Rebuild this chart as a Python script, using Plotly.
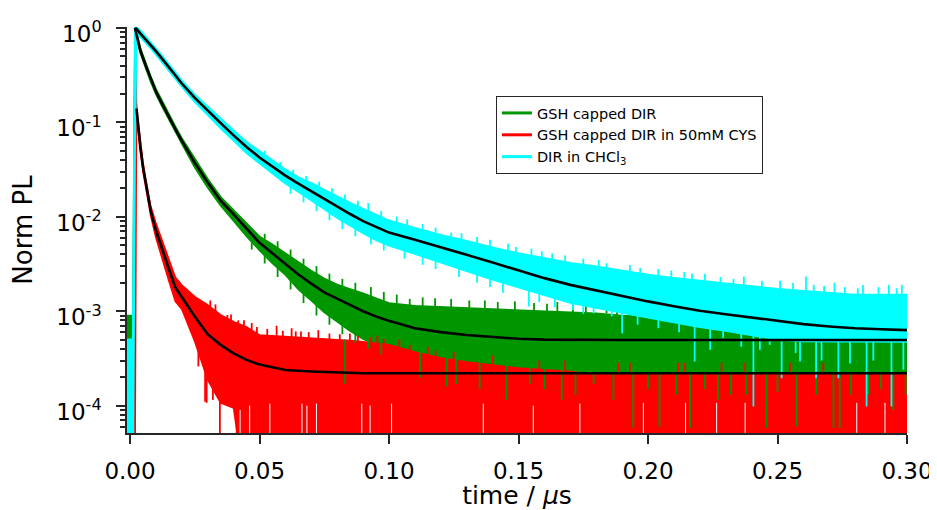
import plotly.graph_objects as go

# ---------------- data ----------------
# common time grid (microseconds) for the noise envelopes of the measured traces
T = [-0.0013, 0.0011, 0.0019, 0.0025, 0.003, 0.004, 0.005, 0.006, 0.008, 0.010,
     0.0125, 0.015, 0.0175, 0.020, 0.025, 0.030, 0.035, 0.040, 0.045, 0.050,
     0.055, 0.060, 0.065, 0.070, 0.075, 0.080, 0.085, 0.090, 0.095, 0.100,
     0.110, 0.120, 0.130, 0.140, 0.150, 0.160, 0.170, 0.180, 0.190, 0.200,
     0.210, 0.220, 0.230, 0.240, 0.250, 0.260, 0.270, 0.280, 0.290, 0.300]

# DIR in CHCl3 (cyan) - upper / lower edge of the noisy trace
cyan_hi = [5.0e-4, 5.0e-4, 1.0, 1.0, 0.99, 0.94, 0.875, 0.82, 0.71, 0.61,
           0.504, 0.411, 0.338, 0.277, 0.196, 0.146, 0.108, 0.0822, 0.0619, 0.0493,
           0.0395, 0.0317, 0.0261, 0.0227, 0.0193, 0.0163, 0.0140, 0.0121, 0.0104, 0.00912,
           0.00762, 0.0064, 0.00556, 0.00472, 0.0041, 0.00365, 0.00325, 0.00298, 0.00268, 0.00243,
           0.00225, 0.00210, 0.00195, 0.00181, 0.00172, 0.00164, 0.00156, 0.00149, 0.00149, 0.00149]
cyan_lo = [1e-5, 1e-5, 0.05, 0.93, 0.86, 0.81, 0.755, 0.70, 0.61, 0.527,
           0.435, 0.355, 0.292, 0.239, 0.165, 0.120, 0.0865, 0.0644, 0.0473, 0.0367,
           0.0288, 0.0225, 0.0185, 0.0150, 0.0121, 0.0097, 0.0080, 0.00673, 0.00565, 0.00495,
           0.00405, 0.00331, 0.00267, 0.00216, 0.00179, 0.00148, 0.00123, 0.00109, 0.00096, 0.00085,
           0.00076, 0.00068, 0.00062, 0.00056, 0.00050, 0.00048, 0.000475, 0.000475, 0.000475, 0.000475]

# GSH capped DIR (green)
green_hi = [9.0e-4, 9.0e-4, 1.0, 0.92, 0.80, 0.62, 0.52, 0.436, 0.308, 0.228,
            0.166, 0.121, 0.0912, 0.0686, 0.0412, 0.0253, 0.0163, 0.0118, 0.0086, 0.0062,
            0.0051, 0.00414, 0.00329, 0.00269, 0.00223, 0.00192, 0.00172, 0.00155, 0.00137, 0.00122,
            0.00114, 0.00111, 0.00108, 0.00105, 0.00103, 0.00100, 0.00098, 0.00095, 0.00090, 0.00088,
            0.00085, 0.00082, 0.00082, 0.00082, 0.00082, 0.00082, 0.00082, 0.00082, 0.00082, 0.00082]
green_lo = [5.0e-4, 5.0e-4, 0.9, 0.79, 0.69, 0.535, 0.449, 0.377, 0.266, 0.197,
            0.144, 0.105, 0.0787, 0.0592, 0.0331, 0.0203, 0.0131, 0.00904, 0.0062, 0.0044,
            0.0032, 0.00242, 0.0017, 0.00129, 0.00097, 0.00078, 0.000615, 0.000505, 0.000437, 0.000398,
            0.000347, 0.000316, 0.00025, 0.00018, 0.00018, 0.00018, 0.00018, 0.00018, 0.00018, 0.00018,
            0.00018, 0.00018, 0.00018, 0.00018, 0.00018, 0.00018, 0.00018, 0.00018, 0.00018, 0.00018]

# GSH capped DIR in 50mM CYS (red); 1e-5 = zero counts (below the axis)
red_hi = [1.1e-4, 1.1e-4, 1.0, 0.16, 0.112, 0.062, 0.038, 0.026, 0.013, 0.0086,
          0.00547, 0.00357, 0.00229, 0.00189, 0.00143, 0.00117, 0.000914, 0.000773, 0.00068, 0.00056,
          0.00055, 0.00054, 0.00053, 0.00052, 0.00051, 0.00050, 0.00049, 0.000475, 0.00046, 0.00044,
          0.00037, 0.00032, 0.00029, 0.00027, 0.00025, 0.00024, 0.00023, 0.000213, 0.000213, 0.000213,
          0.000213, 0.000213, 0.000213, 0.000213, 0.000213, 0.000213, 0.000213, 0.000213, 0.000213, 0.000213]
red_lo = [1e-5, 1e-5, 1e-5, 0.12, 0.089, 0.049, 0.030, 0.020, 0.0102, 0.0060,
          0.00344, 0.00209, 0.00127, 0.00105, 0.000477, 0.000187, 0.000107, 0.000094, 1e-5, 1e-5,
          1e-5, 1e-5, 1e-5, 1e-5, 1e-5, 1e-5, 1e-5, 1e-5, 1e-5, 1e-5,
          1e-5, 1e-5, 1e-5, 1e-5, 1e-5, 1e-5, 1e-5, 1e-5, 1e-5, 1e-5,
          1e-5, 1e-5, 1e-5, 1e-5, 1e-5, 1e-5, 1e-5, 1e-5, 1e-5, 1e-5]

# isolated noise strokes of the cyan trace (time, bottom, top)
cyan_spk_t = [0.092, 0.124, 0.149, 0.163, 0.184, 0.197, 0.214, 0.222, 0.237, 0.251, 0.261, 0.272, 0.283, 0.293, 0.298,
              0.144, 0.154, 0.171, 0.179, 0.186, 0.190, 0.218, 0.224, 0.236, 0.2407, 0.2432, 0.2516, 0.257, 0.2587,
              0.2649, 0.267, 0.2735, 0.278, 0.2844, 0.287, 0.294, 0.2986,
              0.052, 0.058, 0.063, 0.068, 0.073, 0.078, 0.083, 0.088, 0.097, 0.103, 0.107, 0.113, 0.118, 0.128,
              0.134, 0.139, 0.146, 0.155, 0.159, 0.168, 0.175, 0.181, 0.193, 0.204, 0.209, 0.217, 0.228, 0.233,
              0.244, 0.256, 0.264, 0.268, 0.276, 0.281, 0.289, 0.296,
              0.062, 0.067, 0.072, 0.077, 0.082, 0.087, 0.093, 0.098, 0.106, 0.113, 0.118, 0.127, 0.134, 0.139,
              0.158, 0.164, 0.175, 0.196, 0.204, 0.212, 0.229, 0.247]
cyan_spk_lo = [0.0105, 0.0058, 0.0040, 0.0034, 0.0028, 0.0025, 0.0022, 0.0021, 0.0019, 0.0017, 0.0016, 0.0015, 0.0015, 0.0015, 0.0015,
               0.00157, 0.00112, 0.00103, 0.00095, 0.00088, 0.000585, 0.000293, 0.00039, 0.00042, 0.000098, 0.00039, 0.000195,
               0.00036, 0.000293, 0.000195, 0.00030, 0.000195, 0.00028, 0.000098, 0.00030, 0.000098, 0.00024,
               0.040, 0.030, 0.025, 0.021, 0.018, 0.0155, 0.013, 0.011, 0.0088, 0.0076, 0.0071, 0.0064, 0.0058, 0.0051,
               0.0046, 0.0042, 0.0039, 0.0034, 0.0033, 0.0029, 0.0027, 0.0026, 0.0023, 0.0021, 0.0020, 0.0019, 0.0017, 0.0017,
               0.0016, 0.0015, 0.0014, 0.0014, 0.0013, 0.0013, 0.0013, 0.0013,
               0.0175, 0.0142, 0.0115, 0.0092, 0.0074, 0.0062, 0.0051, 0.0044, 0.0036, 0.0031, 0.0028, 0.0023, 0.0020, 0.0018,
               0.00125, 0.0011, 0.00094, 0.00072, 0.00066, 0.0006, 0.00052, 0.00044]
cyan_spk_hi = [0.0140, 0.0068, 0.0048, 0.0041, 0.00323, 0.00286, 0.0026, 0.0025, 0.00233, 0.0021, 0.00233, 0.0020, 0.0019, 0.0019, 0.0019,
               0.0021, 0.0017, 0.0013, 0.0011, 0.0010, 0.00096, 0.0007, 0.00066, 0.0006, 0.00056, 0.00056, 0.0005,
               0.00048, 0.00048, 0.00048, 0.00048, 0.00048, 0.00048, 0.00048, 0.00048, 0.00048, 0.00048,
               0.050, 0.038, 0.0315, 0.027, 0.0235, 0.020, 0.0172, 0.0148, 0.0115, 0.0101, 0.0094, 0.0084, 0.0077, 0.0067,
               0.0061, 0.0057, 0.0052, 0.0046, 0.0043, 0.0039, 0.0036, 0.0035, 0.0031, 0.0028, 0.0027, 0.0025, 0.0023, 0.0022,
               0.0021, 0.0020, 0.0019, 0.00185, 0.0018, 0.00175, 0.0018, 0.00175,
               0.023, 0.019, 0.0155, 0.0125, 0.010, 0.0085, 0.007, 0.006, 0.005, 0.0043, 0.0039, 0.0032, 0.0028, 0.0025,
               0.0017, 0.0015, 0.0013, 0.001, 0.0009, 0.00082, 0.0007, 0.00058]

# green strokes above its band (hidden partly by cyan)
green_up_t = [0.108, 0.1178, 0.131, 0.1486, 0.165, 0.176, 0.184, 0.202,
              0.052, 0.057, 0.062, 0.067, 0.072, 0.077, 0.082, 0.087, 0.093, 0.098, 0.103, 0.113, 0.124, 0.137,
              0.142, 0.156, 0.161, 0.171, 0.188, 0.195, 0.207, 0.215]
green_up_lo = [0.00115, 0.0011, 0.00108, 0.00103, 0.0010, 0.00097, 0.00095, 0.00088,
               0.0051, 0.0042, 0.0034, 0.0027, 0.0022, 0.0019, 0.0016, 0.0015, 0.0013, 0.00115, 0.00107, 0.001, 0.00098, 0.00095,
               0.00095, 0.0009, 0.0009, 0.00088, 0.00082, 0.0008, 0.00077, 0.00075]
green_up_hi = [0.00135, 0.00137, 0.0013, 0.00127, 0.00125, 0.0012, 0.0012, 0.0011,
               0.0066, 0.0055, 0.0045, 0.0036, 0.0030, 0.0025, 0.0022, 0.002, 0.0018, 0.0016, 0.0015, 0.0014, 0.00135, 0.0013,
               0.00125, 0.00122, 0.0012, 0.00118, 0.0011, 0.00108, 0.00104, 0.001]

# green strokes below its band (drawn over the red trace)
green_dn_t = [0.083, 0.112, 0.1223, 0.126, 0.135, 0.1454, 0.1544, 0.160, 0.1667, 0.172, 0.179, 0.1866, 0.1943, 0.200,
              0.2044, 0.211, 0.2162, 0.222, 0.227, 0.232, 0.238, 0.2458, 0.250, 0.2574, 0.265, 0.2716, 0.274,
              0.2784, 0.285, 0.290, 0.2947, 0.2995,
              0.047, 0.052, 0.057, 0.062, 0.067, 0.072, 0.077, 0.082, 0.087, 0.092, 0.097]
green_dn_lo = [0.00017, 0.00020, 0.00016, 0.00017, 0.00015, 0.000115, 0.00017, 0.00015, 0.000115, 0.00013, 0.00017,
               0.000115, 0.000058, 0.00015, 0.00006, 0.00013, 0.000058, 0.00015, 0.000115, 0.00013, 0.00013, 0.000058,
               0.00014, 0.00006, 0.00013, 0.000058, 0.000058, 0.00013, 0.00013, 0.00015, 0.00009, 0.00013,
               0.0045, 0.0032, 0.0023, 0.0017, 0.00122, 0.0009, 0.00072, 0.00057, 0.00046, 0.0004, 0.00035]
green_dn_hi = [0.0005, 0.00037, 0.00032, 0.00032, 0.0003, 0.00027, 0.00025, 0.00025, 0.00024, 0.00023, 0.00022,
               0.00022, 0.00022, 0.00022, 0.00022, 0.00022, 0.00022, 0.00022, 0.00022, 0.00022, 0.00022, 0.00022,
               0.00022, 0.00022, 0.00022, 0.00022, 0.00022, 0.00022, 0.00022, 0.00022, 0.00022, 0.00022,
               0.006, 0.0043, 0.0031, 0.0023, 0.0017, 0.00128, 0.001, 0.0008, 0.00064, 0.00054, 0.00047]

# red strokes
red_spk_t = [0.0264, 0.029, 0.0296, 0.032, 0.0347, 0.0412, 0.0438,
             0.0376, 0.0418, 0.047, 0.0566, 0.0624, 0.066, 0.0727, 0.0849, 0.0955, 0.104, 0.115, 0.125, 0.140,
             0.158, 0.168, 0.1886, 0.193, 0.2117, 0.2143, 0.2284, 0.2375, 0.2548, 0.2677, 0.2735,
             0.031, 0.033, 0.039, 0.044, 0.049, 0.053, 0.059, 0.064, 0.069, 0.077, 0.081, 0.088, 0.093, 0.098,
             0.108, 0.118]
red_spk_lo = [0.00026, 0.00011, 0.000107, 0.000115, 1e-5, 1e-5, 1e-5,
              0.0007, 0.00065, 0.0006, 0.0005, 0.0005, 0.0005, 0.0005, 0.00048, 0.00045, 0.0004, 0.00034, 0.0003, 0.00026,
              0.00023, 0.00023, 0.00021, 0.00021, 0.00021, 0.00021, 0.00021, 0.00021, 0.00021, 0.00021, 0.00021,
              0.001, 0.0009, 0.0007, 0.00062, 0.00052, 0.0005, 0.00048, 0.00047, 0.00046, 0.00045, 0.00045, 0.00043, 0.00042, 0.0004,
              0.00034, 0.0003]
red_spk_hi = [0.0005, 0.0003, 0.0002, 0.0002, 0.00011, 0.0001, 0.0001,
              0.00091, 0.0008, 0.00075, 0.0007, 0.00066, 0.00061, 0.00063, 0.00058, 0.00055, 0.0005, 0.00042, 0.00037, 0.00034,
              0.0003, 0.0003, 0.000284, 0.000284, 0.000284, 0.000284, 0.000284, 0.000284, 0.000284, 0.000284, 0.000284,
              0.0013, 0.00118, 0.00092, 0.0008, 0.00068, 0.00065, 0.00062, 0.00061, 0.0006, 0.00058, 0.00057, 0.00055, 0.00053, 0.00051,
              0.00044, 0.00038]

# channels where all traces are at zero counts (white gaps)
gap_t = [0.0425, 0.0462, 0.0540, 0.0664, 0.0683, 0.0720, 0.0895, 0.0927, 0.1010, 0.1364, 0.1557, 0.1737,
         0.1982, 0.2145, 0.2265, 0.2375, 0.2806, 0.2915]
gap_lo = [1e-5] * 18
gap_hi = [9e-5, 1.0e-4, 1.05e-4, 1.05e-4, 1.0e-4, 1.05e-4, 1.05e-4, 1.0e-4, 1.05e-4, 1.05e-4, 1.0e-4, 1.05e-4,
          1.07e-4, 1.07e-4, 1.07e-4, 1.07e-4, 1.07e-4, 1.07e-4]

# fitted decays (black)
cyan_fit_t = [0.0019, 0.0025, 0.004, 0.006, 0.008, 0.010, 0.0125, 0.015, 0.0175, 0.020, 0.025, 0.030, 0.035, 0.040,
              0.045, 0.050, 0.055, 0.060, 0.065, 0.070, 0.075, 0.080, 0.085, 0.090, 0.095, 0.100, 0.110, 0.120,
              0.130, 0.140, 0.150, 0.160, 0.170, 0.180, 0.190, 0.200, 0.210, 0.220, 0.230, 0.240, 0.250, 0.260,
              0.270, 0.280, 0.290, 0.300]
cyan_fit_v = [1.0, 0.98, 0.87, 0.76, 0.66, 0.567, 0.468, 0.382, 0.314, 0.258, 0.182, 0.132, 0.098, 0.0728,
              0.0548, 0.0425, 0.0341, 0.0273, 0.0225, 0.0187, 0.0155, 0.0127, 0.0107, 0.0090, 0.0078, 0.0068, 0.0057, 0.00478,
              0.00395, 0.00327, 0.00271, 0.00224, 0.0019, 0.00166, 0.00143, 0.00127, 0.00113, 0.00101, 0.00093, 0.00086, 0.00080, 0.00073,
              0.00069, 0.00066, 0.000645, 0.00063]
green_fit_t = [0.0019, 0.0025, 0.004, 0.006, 0.008, 0.010, 0.0125, 0.015, 0.0175, 0.020, 0.025, 0.030, 0.035, 0.040,
               0.045, 0.050, 0.055, 0.060, 0.065, 0.070, 0.075, 0.080, 0.085, 0.090, 0.095, 0.100, 0.110, 0.120,
               0.130, 0.140, 0.150, 0.160, 0.190, 0.300]
green_fit_v = [1.0, 0.85, 0.575, 0.405, 0.286, 0.212, 0.155, 0.113, 0.0848, 0.0637, 0.0374, 0.0230, 0.0148, 0.0106,
               0.0074, 0.0053, 0.0041, 0.0032, 0.00245, 0.00196, 0.00158, 0.00136, 0.00116, 0.0010, 0.00088, 0.00079, 0.00066, 0.00060,
               0.00056, 0.00053, 0.00051, 0.00050, 0.000495, 0.000495]
red_fit_t = [0.0025, 0.003, 0.004, 0.005, 0.0065, 0.008, 0.010, 0.0125, 0.015, 0.0175, 0.020, 0.025, 0.030, 0.035,
             0.040, 0.045, 0.050, 0.060, 0.070, 0.080, 0.090, 0.300]
red_fit_v = [0.14, 0.10, 0.055, 0.034, 0.019, 0.0115, 0.0072, 0.0044, 0.0028, 0.00179, 0.0014, 0.00088, 0.00057, 0.00044,
             0.000357, 0.000305, 0.000272, 0.000238, 0.00023, 0.000225, 0.00022, 0.00022]

names = ["GSH capped DIR", "GSH capped DIR in 50mM CYS", "DIR in CHCl<sub>3</sub>"]
x_ticks = [0.0, 0.05, 0.10, 0.15, 0.20, 0.25, 0.30]
x_ticktext = ["0.00", "0.05", "0.10", "0.15", "0.20", "0.25", "0.30"]
y_ticks = [1e-4, 1e-3, 1e-2, 1e-1, 1.0]
y_ticktext = ["10<sup>-4</sup>", "10<sup>-3</sup>", "10<sup>-2</sup>", "10<sup>-1</sup>", "10<sup>0</sup>"]

# ---------------- styling ----------------
FONT = "DejaVu Sans"
GREEN = "#009600"
RED = "#ff0000"
CYAN = "#00ffff"
AX = "#262626"


def band(t, hi, lo, color, width):
    return go.Scatter(x=list(t) + list(t[::-1]), y=list(hi) + list(lo[::-1]),
                      fill="toself", fillcolor=color, mode="lines",
                      line=dict(color=color, width=width),
                      showlegend=False, hoverinfo="skip")


def strokes(t, lo, hi, color, width):
    xs, ys = [], []
    for a, b, c in zip(t, lo, hi):
        xs += [a, a, None]
        ys += [b, c, None]
    return go.Scatter(x=xs, y=ys, mode="lines", line=dict(color=color, width=width),
                      connectgaps=False, showlegend=False, hoverinfo="skip")


def fit(t, v):
    return go.Scatter(x=t, y=v, mode="lines", line=dict(color="black", width=2.6),
                      showlegend=False, hoverinfo="skip")


fig = go.Figure()
fig.add_trace(band(T, green_hi, green_lo, GREEN, 1.5))
fig.add_trace(strokes(green_up_t, green_up_lo, green_up_hi, GREEN, 1.8))
fig.add_trace(band(T, red_hi, red_lo, RED, 1.5))
fig.add_trace(strokes(red_spk_t, red_spk_lo, red_spk_hi, RED, 1.8))
fig.add_trace(strokes(green_dn_t, green_dn_lo, green_dn_hi, GREEN, 1.8))
fig.add_trace(strokes(gap_t, gap_lo, gap_hi, "white", 1))
fig.add_trace(band(T, cyan_hi, cyan_lo, CYAN, 2))
fig.add_trace(strokes(cyan_spk_t, cyan_spk_lo, cyan_spk_hi, CYAN, 1.8))
fig.add_trace(fit(green_fit_t, green_fit_v))
fig.add_trace(fit(red_fit_t, red_fit_v))
fig.add_trace(fit(cyan_fit_t, cyan_fit_v))

for nm, col in zip(names, [GREEN, RED, CYAN]):
    fig.add_trace(go.Scatter(x=[None], y=[None], mode="lines", name=nm,
                             line=dict(color=col, width=3)))

minor_vals = [k * 10.0 ** e for e in range(-5, 0) for k in range(2, 10)]

# the page body adds an 8 px offset, so the figure is 8 px smaller with 8 px smaller left/top margins
fig.update_layout(
    width=929, height=502,
    margin=dict(l=119, r=30, t=19, b=77, autoexpand=False),
    paper_bgcolor="white", plot_bgcolor="white",
    font=dict(family=FONT, color="black"),
    showlegend=True,
    legend=dict(x=0.473, y=0.83, xanchor="left", yanchor="top",
                bgcolor="white", bordercolor=AX, borderwidth=1,
                font=dict(family=FONT, size=14.5, color="black"),
                tracegroupgap=0, itemwidth=30),
    xaxis=dict(range=[-0.00116, 0.3], showgrid=False, zeroline=False, automargin=False,
               showline=True, linecolor=AX, linewidth=1.5,
               ticks="outside", ticklen=9, tickwidth=1.5, tickcolor=AX,
               tickmode="array", tickvals=x_ticks, ticktext=x_ticktext,
               tickfont=dict(family=FONT, size=23, color="black"),
               ticklabelstandoff=8,
               title=dict(text="time / <i>μ</i>s", font=dict(family=FONT, size=25, color="black"),
                          standoff=9)),
    yaxis=dict(type="log", range=[-4.29, 0.01], showgrid=False, zeroline=False, automargin=False,
               showline=True, linecolor=AX, linewidth=1.5,
               ticks="outside", ticklen=9, tickwidth=1.5, tickcolor=AX,
               tickmode="array", tickvals=y_ticks, ticktext=y_ticktext,
               tickfont=dict(family=FONT, size=23, color="black"),
               ticklabelstandoff=10, ticklabelshift=6,
               minor=dict(tickmode="array", tickvals=minor_vals, ticks="outside",
                          ticklen=5, tickwidth=1.5, tickcolor=AX),
               title=dict(text="Norm PL", font=dict(family=FONT, size=26, color="black"),
                          standoff=18)),
)

fig.write_html("out.html")
